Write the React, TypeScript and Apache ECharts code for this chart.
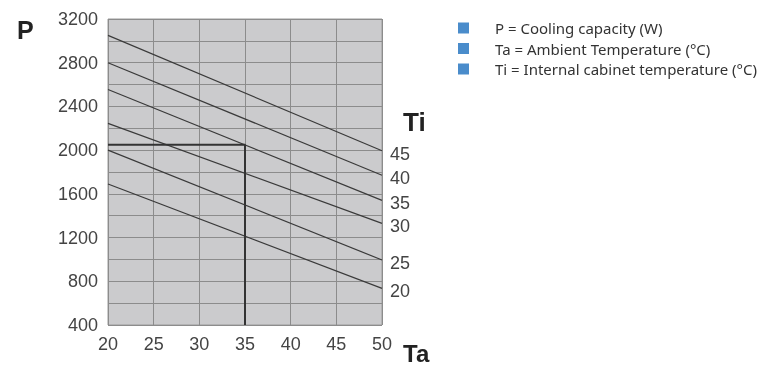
import React, { useEffect, useRef } from "react";
import * as echarts from "echarts";

const tiLabels = ["45", "40", "35", "30", "25", "20"];
const taRange = [20, 50];
const pAtTa20 = [3050, 2800, 2555, 2245, 2000, 1690];
const pAtTa50 = [1995, 1770, 1540, 1330, 995, 735];
const refPoint = { ta: 35, p: 2050 };
const legendItems = [
  "P = Cooling capacity (W)",
  "Ta = Ambient Temperature (°C)",
  "Ti = Internal cabinet temperature (°C)",
];

export default function App() {
  const ref = useRef<HTMLDivElement>(null);
  useEffect(() => {
    if (!ref.current) return;
    const chart = echarts.init(ref.current, null, { renderer: "svg" });
    const lineSeries = tiLabels.map((name, i) => ({
      type: "line",
      name,
      data: [
        [taRange[0], pAtTa20[i]],
        [taRange[1], pAtTa50[i]],
      ],
      symbol: "none",
      lineStyle: { color: "#3a3a3a", width: 1.2 },
      endLabel: {
        show: true,
        formatter: name,
        distance: 8,
        offset: [0, 3],
        fontFamily: "Liberation Sans",
        fontSize: 18,
        color: "#444",
      },
      silent: true,
    }));
    const option: any = {
      animation: false,
      grid: {
        left: 108,
        top: 19,
        width: 274,
        height: 306,
        show: true,
        backgroundColor: "#cbcbcd",
        borderColor: "#9a9a9a",
        borderWidth: 1,
      },
      xAxis: {
        type: "value",
        min: 20,
        max: 50,
        interval: 5,
        axisLine: { show: false },
        axisTick: { show: false },
        axisLabel: {
          margin: 10,
          fontFamily: "Liberation Sans",
          fontSize: 18,
          color: "#444",
        },
        splitLine: { show: true, lineStyle: { color: "#8c8c8c", width: 1 } },
      },
      yAxis: {
        type: "value",
        min: 400,
        max: 3200,
        interval: 200,
        axisLine: { show: false },
        axisTick: { show: false },
        axisLabel: {
          margin: 10,
          fontFamily: "Liberation Sans",
          fontSize: 18,
          color: "#444",
          formatter: (v: number) => ((v - 400) % 400 === 0 ? String(v) : ""),
        },
        splitLine: { show: true, lineStyle: { color: "#8c8c8c", width: 1 } },
      },
      series: [
        ...lineSeries,
        {
          type: "line",
          name: "ref",
          data: [
            [taRange[0], refPoint.p],
            [refPoint.ta, refPoint.p],
            [refPoint.ta, 400],
          ],
          symbol: "none",
          lineStyle: { color: "#333", width: 2 },
          silent: true,
        },
      ],
      graphic: [
        {
          type: "text",
          left: 17,
          top: 17,
          style: { text: "P", font: "bold 25px 'Liberation Sans'", fill: "#222" },
        },
        {
          type: "text",
          left: 403,
          top: 109,
          style: { text: "Ti", font: "bold 26px 'Liberation Sans'", fill: "#222" },
        },
        {
          type: "text",
          left: 403,
          top: 341,
          style: { text: "Ta", font: "bold 24px 'Liberation Sans'", fill: "#222" },
        },
        ...legendItems.flatMap((t, i) => [
          {
            type: "rect",
            shape: { x: 458, y: 22.5 + i * 20.5, width: 11, height: 11 },
            style: { fill: "#4a8ccb" },
          },
          {
            type: "text",
            x: 495,
            y: 28 + i * 20.5,
            style: {
              text: t,
              font: "15px 'Noto Sans'",
              fill: "#333",
              verticalAlign: "middle",
            },
          },
        ]),
      ],
    };
    chart.setOption(option);
    return () => chart.dispose();
  }, []);
  return (
    <div
      ref={ref}
      style={{ position: "fixed", left: 0, top: 0, width: 766, height: 367 }}
    />
  );
}
